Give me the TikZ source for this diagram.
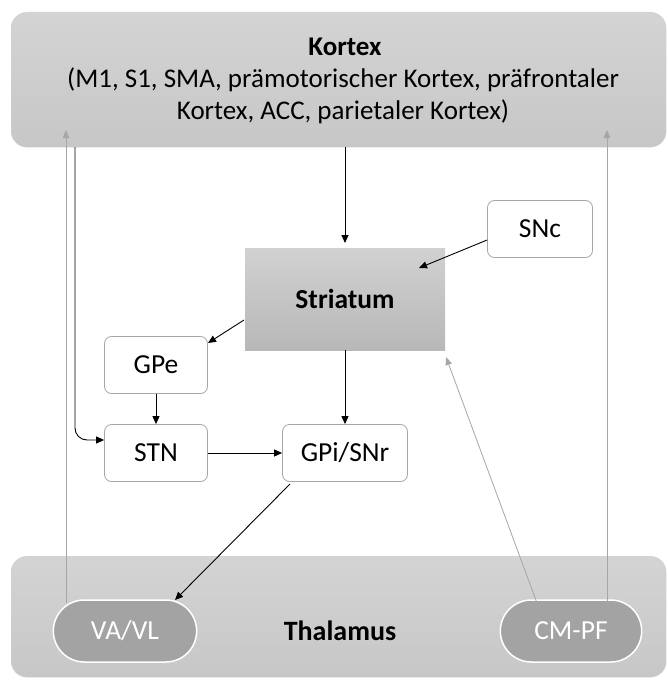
\documentclass[tikz,border=0pt]{standalone}
\usepackage{fontspec}
\setmainfont{Carlito}
\usetikzlibrary{arrows.meta,shapes.misc}
\begin{document}
\begin{tikzpicture}[x=1pt,y=-1pt,
  font=\fontsize{27.5}{31}\selectfont,
  bigbox/.style={draw=black!18,rounded corners=16pt,top color=black!17,bottom color=black!22},
  smallbox/.style={draw=black!35,fill=white,rounded corners=7pt,line width=0.8pt,minimum width=103pt,minimum height=57pt},
  pill/.style={draw=white,line width=1.5pt,fill=black!36,rounded rectangle,minimum width=150pt,minimum height=62pt,text=white},
  blk/.style={-{Triangle[length=8pt,width=7pt]},line width=0.9pt,black},
  gry/.style={-{Triangle[length=8pt,width=6.5pt]},line width=0.8pt,black!35}]
\useasboundingbox (0,0) rectangle (668,685);
% big boxes
\node[bigbox,minimum width=655pt,minimum height=135pt,anchor=north west] (kortex) at (11,12) {};
\node[font=\fontsize{27}{31}\selectfont\bfseries] (ktitle) at (345,47) {Kortex};
\node[align=center,font=\fontsize{27}{32}\selectfont] (ktext) at (343,96) {(M1, S1, SMA, prämotorischer Kortex, präfrontaler\\Kortex, ACC, parietaler Kortex)};
\node[bigbox,minimum width=655pt,minimum height=121pt,anchor=north west] (thal) at (11,556) {};
\node[font=\fontsize{28}{31}\selectfont\bfseries] (thtitle) at (340,631) {Thalamus};
\node[pill] (vavl) at (125,631) {VA/VL};
\node[pill,minimum width=148pt] (cmpf) at (571,631) {CM-PF};
% striatum
\node[draw=none,top color=black!18,bottom color=black!28,minimum width=200pt,minimum height=102pt,font=\fontsize{27.5}{31}\selectfont\bfseries] (str) at (345,299) {Striatum};
\node[smallbox,minimum width=105pt] (snc) at (540,229) {SNc};
\node[smallbox] (gpe) at (156,365) {GPe};
\node[smallbox] (stn) at (156,453) {STN};
\node[smallbox,minimum width=125pt] (gpi) at (345,453) {GPi/SNr};
% coordinates
\coordinate (kbot) at (345,147);
\coordinate (strtop) at (345,243);
\coordinate (kleft) at (75,147);
\coordinate (ktipL) at (66,130);
\coordinate (ktipR) at (607,130);
% black arrows
\draw[blk] (kbot) -- (strtop);
\draw[blk] (snc.west |- 0,240) -- (419,268);
\draw[blk] (244,320) -- (208,343);
\draw[blk] (gpe.south) -- (stn.north);
\draw[blk] (str.south) -- (gpi.north);
\draw[blk] (stn.east) -- (gpi.west);
\draw[blk] (290,484) -- (175,600);
\draw[blk,rounded corners=12pt] (kleft) -- (75,440) -- (stn.west |- 0,440);
% gray arrows
\draw[gry] (66,603) -- (ktipL);
\draw[gry] (607,603) -- (ktipR);
\draw[gry] (537,603) -- (446,357);
\end{tikzpicture}
\end{document}
